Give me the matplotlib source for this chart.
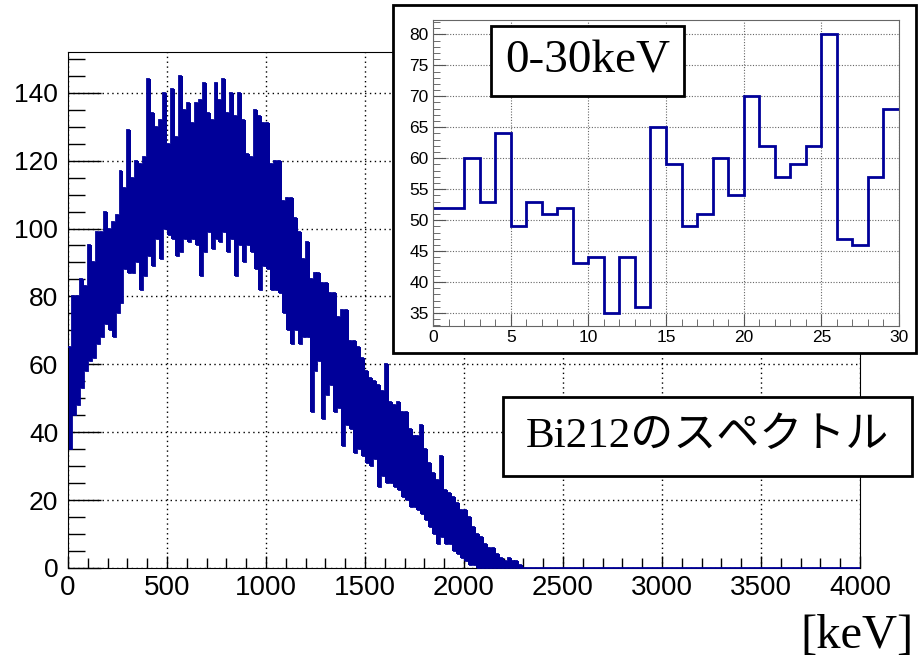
import numpy as np
import matplotlib
matplotlib.use("Agg")
import matplotlib.pyplot as plt
from matplotlib.patches import Rectangle
from matplotlib.ticker import MultipleLocator

col_width = 20
band_hi = [65, 80, 80, 85, 83, 95, 90, 99, 99, 105,
           100, 102, 104, 117, 112, 129, 115, 120, 119, 121,
           144, 134, 130, 132, 140, 125, 141, 127, 145, 135,
           137, 131, 137, 138, 143, 134, 132, 143, 138, 144,
           134, 140, 133, 140, 132, 122, 121, 135, 133, 131,
           131, 119, 120, 120, 108, 109, 109, 103, 99, 91,
           96, 85, 87, 87, 84, 84, 81, 81, 74, 76,
           76, 67, 67, 65, 62, 58, 56, 55, 54, 52,
           60, 49, 48, 49, 46, 46, 41, 39, 39, 42,
           35, 31, 28, 26, 33, 23, 22, 21, 19, 17,
           17, 15, 12, 10, 9, 7, 6, 6, 4, 3,
           2, 3, 2, 2, 1]
band_lo = [35, 45, 48, 53, 58, 61, 62, 66, 68, 72,
           70, 68, 75, 78, 88, 87, 87, 90, 82, 86,
           92, 89, 97, 91, 100, 98, 97, 92, 93, 97,
           96, 97, 95, 86, 93, 99, 94, 97, 96, 99,
           93, 97, 86, 95, 90, 95, 93, 88, 82, 89,
           88, 82, 82, 81, 75, 70, 66, 70, 66, 68,
           68, 46, 58, 61, 44, 51, 54, 46, 47, 36,
           42, 41, 34, 35, 33, 31, 30, 32, 24, 27,
           25, 25, 24, 23, 21, 20, 18, 18, 17, 16,
           14, 12, 10, 7, 9, 7, 7, 5, 4, 3,
           2, 1, 1, 0, 0, 0, 0, 0, 0, 0,
           0, 0, 0, 0, 0]
e_max = 4000

# 0-30 keV zoom, 1 keV bins
low_counts = [52, 52, 60, 53, 64, 49, 53, 51, 52, 43,
              44, 35, 44, 36, 65, 59, 49, 51, 60, 54,
              70, 62, 57, 59, 62, 80, 47, 46, 57, 68]

blue = "#000099"
n_cols = e_max // col_width
hi = np.array(band_hi + [0] * (n_cols - len(band_hi)))
lo = np.array(band_lo + [0] * (n_cols - len(band_lo)))

fig = plt.figure(figsize=(9.18, 6.59), dpi=100)

# main spectrum
ax = fig.add_axes([0.0741, 0.1381, 0.8627, 0.7830], zorder=0)
edges = np.arange(0, e_max + 1, col_width)
ax.stairs(hi, edges, baseline=lo, fill=True, color=blue, lw=0)
half = np.arange(0, e_max + 1, col_width // 2)
ax.stairs(np.column_stack([hi, lo]).ravel(), half, baseline=None,
          color=blue, lw=1.3, clip_on=False, zorder=3)

ax.set_xlim(0, 4000)
ax.set_ylim(0, 152)
ax.xaxis.set_major_locator(MultipleLocator(500))
ax.xaxis.set_minor_locator(MultipleLocator(100))
ax.yaxis.set_major_locator(MultipleLocator(20))
ax.yaxis.set_minor_locator(MultipleLocator(5))
ax.grid(True, which="major", color="black", ls=(0, (1, 2.5)), lw=1)
ax.set_axisbelow(True)
ax.tick_params(axis="x", which="major", direction="in", length=9, width=1,
               labelsize=20, pad=5)
ax.tick_params(axis="x", which="minor", direction="in", length=7, width=1)
ax.tick_params(axis="y", which="major", direction="in", length=24, width=1,
               labelsize=19, pad=7)
ax.tick_params(axis="y", which="minor", direction="in", length=12, width=1)
for lab in ax.get_xticklabels() + ax.get_yticklabels():
    lab.set_family("Liberation Sans")

# white pad behind the inset
fig.patches.append(Rectangle((0.4281, 0.4643), 0.5697, 0.5280,
                             transform=fig.transFigure, facecolor="white",
                             edgecolor="black", lw=2, zorder=1))

# inset 0-30 keV
ins = fig.add_axes([0.4717, 0.5053, 0.5076, 0.4651], zorder=2)
ins.stairs(low_counts, np.arange(len(low_counts) + 1), baseline=None,
           color=blue, lw=2)
ins.set_xlim(0, 30)
ins.set_ylim(32.9, 82.4)
ins.xaxis.set_major_locator(MultipleLocator(5))
ins.xaxis.set_minor_locator(MultipleLocator(1))
ins.yaxis.set_major_locator(MultipleLocator(5))
ins.yaxis.set_minor_locator(MultipleLocator(1))
ins.grid(True, which="major", color="#666666", ls=(0, (1, 1.5)), lw=0.8)
ins.set_axisbelow(True)
ins.tick_params(axis="both", which="major", direction="in", length=9,
                color="#555555", labelsize=12.5, pad=3)
ins.tick_params(axis="both", which="minor", direction="in", length=5,
                color="#555555")
for s in ins.spines.values():
    s.set_color("#666666")
for lab in ins.get_xticklabels() + ins.get_yticklabels():
    lab.set_family("Liberation Sans")
ins.text(9.95, 75.7, "0-30keV", ha="center", va="center", fontsize=34,
         family="Liberation Serif", zorder=5,
         bbox=dict(boxstyle="square,pad=0.3", facecolor="white",
                   edgecolor="black", lw=2))

# title box and unit
fig.patches.append(Rectangle((0.548, 0.2777), 0.4455, 0.1199,
                             transform=fig.transFigure, facecolor="white",
                             edgecolor="black", lw=2, zorder=3))
fig.text(0.7707, 0.3376, "Bi212のスペクトル", ha="center", va="center",
         fontsize=31, family=["Liberation Serif", "Noto Sans CJK JP"],
         zorder=4)
fig.text(0.995, 0.035, "[keV]", ha="right", va="center", fontsize=35,
         family="Liberation Serif")

fig.savefig("out.png", dpi=100)
